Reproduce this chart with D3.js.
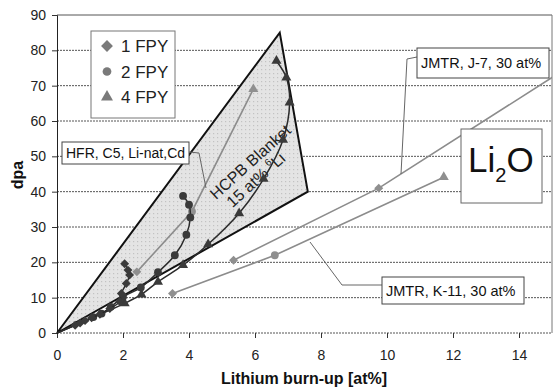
<!DOCTYPE html>
<html>
<head>
<meta charset="utf-8">
<script src="https://cdn.jsdelivr.net/npm/d3@7"></script>
<style>
  body { margin: 0; background: #fff; }
  svg { font-family: "Liberation Sans", Arial, sans-serif; }
</style>
</head>
<body>
<div id="chart"></div>
<script>
// HCPB blanket region (burn-up, dpa)
const blanketRegion = [[0, 0], [6.75, 85], [7.6, 40]]

// Dark series (HCPB), with the origin as start of each curve
const fpy1 = [[0, 0], [0.55, 2.2], [0.7, 2.8], [0.85, 3.5], [1.05, 4.3], [1.3, 5.3], [1.6, 6.9], [1.9, 8.9], [1.95, 11.2], [2.1, 14], [2.2, 16.4], [2.15, 17.8], [2.05, 19.6]]
const fpy2 = [[0, 0], [1.1, 4.5], [1.35, 5.5], [1.63, 7.4], [2.0, 10.2], [2.54, 12.9], [3.06, 17.2], [3.57, 22], [3.92, 27.8], [4.04, 32.7], [4.0, 36.3], [3.82, 38.8]]
const fpy4 = [[0, 0], [2.05, 8.4], [2.56, 10.9], [3.06, 14.5], [3.82, 19.2], [4.58, 25.1], [5.52, 33.9], [6.26, 43.6], [6.85, 54.7], [7.05, 65.2], [6.95, 72.3], [6.65, 77]]

// Gray experiments: points and marker shapes
const hfr = [[2.42, 17.3], [4.09, 34.4], [5.95, 69]]
const hfrShapes = ["diamond", "circle", "triangle"]
const jmtrJ7 = [[5.35, 20.6], [9.75, 41], [15.3, 74.1]]
const jmtrJ7Shapes = ["diamond", "diamond", "none"]
const jmtrK11 = [[3.5, 11.2], [6.6, 22], [11.72, 44.1]]
const jmtrK11Shapes = ["diamond", "circle", "triangle"]

const xTicks = [0, 2, 4, 6, 8, 10, 12, 14]
const yTicks = [0, 10, 20, 30, 40, 50, 60, 70, 80, 90]
const legendItems = [["diamond", "1 FPY"], ["circle", "2 FPY"], ["triangle", "4 FPY"]]

const width = 553
const height = 392
const margin = { top: 15, right: 1, bottom: 59, left: 57 }

// square turned 45 degrees, as the spreadsheet diamond
const squareDiamond = {
  draw(context, size) {
    const r = Math.sqrt(size / 2)
    context.moveTo(0, -r)
    context.lineTo(r, 0)
    context.lineTo(0, r)
    context.lineTo(-r, 0)
    context.closePath()
  }
}

const SYMBOLS = {
  diamond: squareDiamond,
  circle: d3.symbolCircle,
  triangle: d3.symbolTriangle,
}

const svg = d3.select("#chart")
  .append("svg")
  .attr("width", width)
  .attr("height", height)

const x = d3.scaleLinear().domain([0, 15]).range([margin.left, width - margin.right])
const y = d3.scaleLinear().domain([0, 90]).range([height - margin.bottom, margin.top])

// Dotted fill for the blanket region
const defs = svg.append("defs")
const pat = defs.append("pattern")
  .attr("id", "dots")
  .attr("width", 4)
  .attr("height", 4)
  .attr("patternUnits", "userSpaceOnUse")
pat.append("rect").attr("width", 4).attr("height", 4).attr("fill", "#e4e4e4")
pat.append("rect").attr("x", 1).attr("y", 1).attr("width", 1.2).attr("height", 1.2).attr("fill", "#c2c2c2")

defs.append("clipPath")
  .attr("id", "plotclip")
  .append("rect")
  .attr("x", x(0))
  .attr("y", y(90))
  .attr("width", x(15) - x(0))
  .attr("height", y(0) - y(90))

// Gridlines
svg.append("g")
  .selectAll("line")
  .data(yTicks)
  .join("line")
  .attr("x1", x(0))
  .attr("x2", x(15))
  .attr("y1", d => y(d))
  .attr("y2", d => y(d))
  .attr("stroke", "#555")
  .attr("stroke-width", 1)
  .attr("stroke-dasharray", d => d === 90 ? null : "2,1")

// right border
svg.append("line")
  .attr("x1", x(15)).attr("x2", x(15))
  .attr("y1", y(90)).attr("y2", y(0))
  .attr("stroke", "#777")

// Axes
const xAxis = svg.append("g")
  .attr("transform", `translate(0,${y(0)})`)
  .call(d3.axisBottom(x).tickValues(xTicks).tickSize(5).tickPadding(12))
xAxis.select(".domain").remove()
xAxis.selectAll("line").attr("stroke", "#333")
xAxis.selectAll("text").attr("font-size", 14).attr("fill", "#222")

const yAxis = svg.append("g")
  .attr("transform", `translate(${x(0)},0)`)
  .call(d3.axisLeft(y).tickValues(yTicks).tickSize(5).tickPadding(6))
yAxis.select(".domain").attr("stroke", "#222")
yAxis.selectAll("line").attr("stroke", "#333")
yAxis.selectAll("text").attr("font-size", 14).attr("fill", "#222")

// Axis titles
svg.append("text")
  .attr("x", 304)
  .attr("y", 384)
  .attr("text-anchor", "middle")
  .attr("font-size", 16)
  .attr("font-weight", 700)
  .attr("fill", "#111")
  .text("Lithium burn-up [at%]")

svg.append("text")
  .attr("transform", "translate(23,175) rotate(-90)")
  .attr("text-anchor", "middle")
  .attr("font-size", 16)
  .attr("font-weight", 700)
  .attr("fill", "#111")
  .text("dpa")

// Blanket region
svg.append("path")
  .attr("d", d3.line().x(d => x(d[0])).y(d => y(d[1]))(blanketRegion) + "Z")
  .attr("fill", "url(#dots)")
  .attr("stroke", "#111")
  .attr("stroke-width", 2)
  .attr("stroke-linejoin", "miter")

const blanketLabel = svg.append("g")
  .attr("transform", "translate(254,166) rotate(-42)")
  .attr("font-size", 16)
  .attr("fill", "#222")
blanketLabel.append("text")
  .attr("text-anchor", "middle")
  .text("HCPB Blanket")
const line2 = blanketLabel.append("text")
  .attr("x", -8)
  .attr("y", 17)
  .attr("text-anchor", "middle")
line2.append("tspan").text("15 at% ")
line2.append("tspan").attr("font-size", 10).attr("dy", -7).text("6")
line2.append("tspan").attr("dy", 7).text("Li")

const plot = svg.append("g").attr("clip-path", "url(#plotclip)")

const smooth = d3.line()
  .x(d => x(d[0]))
  .y(d => y(d[1]))
  .curve(d3.curveCatmullRom.alpha(0.5))
const straight = d3.line()
  .x(d => x(d[0]))
  .y(d => y(d[1]))

function symbolSize(shape) {
  if (shape === "circle") return 48
  if (shape === "triangle") return 44
  return 40
}

// Gray experiment lines
function drawGray(points, shapes) {
  plot.append("path")
    .attr("d", straight(points))
    .attr("fill", "none")
    .attr("stroke", "#8c8c8c")
    .attr("stroke-width", 1.6)
  plot.append("g")
    .selectAll("path")
    .data(points.filter((p, i) => shapes[i] !== "none"))
    .join("path")
    .attr("transform", d => `translate(${x(d[0])},${y(d[1])})`)
    .attr("d", (d, i) => d3.symbol(SYMBOLS[shapes[i]], symbolSize(shapes[i]))())
    .attr("fill", "#8f8f8f")
}

drawGray(hfr, hfrShapes)
drawGray(jmtrJ7, jmtrJ7Shapes)
drawGray(jmtrK11, jmtrK11Shapes)

// Dark HCPB curves
function drawDark(points, shape) {
  plot.append("path")
    .attr("d", smooth(points))
    .attr("fill", "none")
    .attr("stroke", "#2b2b2b")
    .attr("stroke-width", 1.5)
  plot.append("g")
    .selectAll("path")
    .data(points.filter(p => p[0] > 0))
    .join("path")
    .attr("transform", d => `translate(${x(d[0])},${y(d[1])})`)
    .attr("d", d3.symbol(SYMBOLS[shape], symbolSize(shape))())
    .attr("fill", "#3a3a3a")
}

drawDark(fpy4, "triangle")
drawDark(fpy2, "circle")
drawDark(fpy1, "diamond")

// Legend
const legend = svg.append("g")
legend.append("rect")
  .attr("x", 91)
  .attr("y", 31)
  .attr("width", 84)
  .attr("height", 87)
  .attr("fill", "#fff")
  .attr("stroke", "#777")
legendItems.forEach(([shape, label], i) => {
  const cy = 46 + i * 25.5
  legend.append("path")
    .attr("transform", `translate(107,${cy})`)
    .attr("d", d3.symbol(SYMBOLS[shape], shape === "circle" ? 60 : shape === "triangle" ? 62 : 70)())
    .attr("fill", "#7a7a7a")
  legend.append("text")
    .attr("x", 121)
    .attr("y", cy + 6)
    .attr("font-size", 17)
    .attr("fill", "#222")
    .text(label)
})

// Callout boxes with leader lines
function callout(box, text, fontSize, leader) {
  svg.append("path")
    .attr("d", d3.line()(leader))
    .attr("fill", "none")
    .attr("stroke", "#666")
    .attr("stroke-width", 1)
  svg.append("rect")
    .attr("x", box[0])
    .attr("y", box[1])
    .attr("width", box[2])
    .attr("height", box[3])
    .attr("fill", "#fff")
    .attr("stroke", "#444")
  svg.append("text")
    .attr("x", box[0] + 4)
    .attr("y", box[1] + box[3] / 2 + fontSize * 0.36)
    .attr("font-size", fontSize)
    .attr("fill", "#111")
    .text(text)
}

callout([62, 142, 127, 22], "HFR, C5, Li-nat,Cd", 14, [[189, 152], [199, 153], [206, 188]])
callout([417, 48, 132, 30], "JMTR, J-7, 30 at%", 14.5, [[417, 57], [407, 59], [401, 174]])
callout([382, 277, 142, 27], "JMTR, K-11, 30 at%", 14.5, [[382, 285], [342, 285], [310, 242]])

// Li2O box
svg.append("rect")
  .attr("x", 461)
  .attr("y", 129)
  .attr("width", 81)
  .attr("height", 74)
  .attr("fill", "#fff")
  .attr("stroke", "#666")
const li2o = svg.append("text")
  .attr("x", 468)
  .attr("y", 172)
  .attr("font-size", 35)
  .attr("fill", "#111")
li2o.append("tspan").text("Li")
li2o.append("tspan").attr("font-size", 20).attr("dy", 10).text("2")
li2o.append("tspan").attr("dy", -10).text("O")
</script>
</body>
</html>
